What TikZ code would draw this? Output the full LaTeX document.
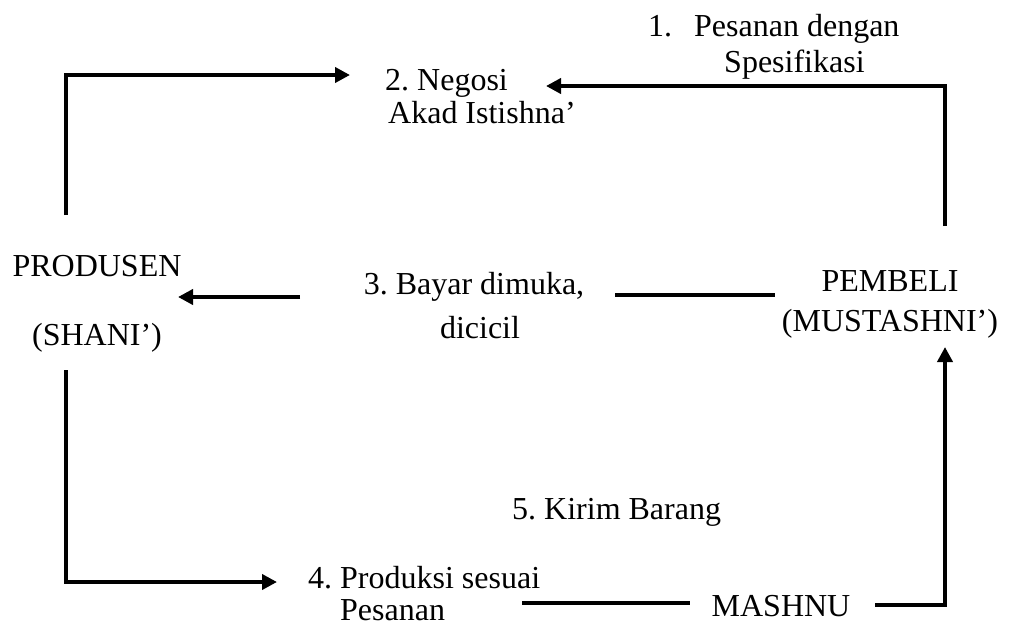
\documentclass[tikz,border=0pt]{standalone}
\usepackage{fontspec}
\setmainfont{Liberation Serif}
\usetikzlibrary{arrows.meta}

\begin{document}
\frenchspacing
\begin{tikzpicture}[
		txt/.style={inner sep=0pt,font=\fontsize{32}{32}\selectfont},
		ln/.style={line width=4pt},
		>={Triangle[length=15pt,width=15pt]},
		x=1pt,y=-1pt]
	\useasboundingbox (0,0) rectangle (1022,627);
	%% define nodes
	\node[txt,align=center,anchor=north] (produsen) at (97,255) {PRODUSEN\\[37pt](SHANI')};
	\node[txt,align=center,anchor=north] (pembeli) at (890,270) {PEMBELI\\[8pt](MUSTASHNI')};
	\node[txt,anchor=base] (mashnu) at (781,616) {MASHNU};
	\node[txt,align=left,anchor=north west] (negosi) at (385,69.5) {2. Negosi\\[1pt]\hspace{3pt}Akad Istishna'};
	\node[txt,align=left,anchor=north west] (pesan) at (648,14.4) {1.\hspace{22pt}Pesanan dengan\\[4pt]\hspace{76pt}Spesifikasi};
	\node[txt,align=center,anchor=north] (bayar) at (474,272) {3. Bayar dimuka,\\[12pt]\hspace{12pt}dicicil};
	\node[txt,align=left,anchor=north west] (produksi) at (308,566) {4. Produksi sesuai\\[0pt]\hspace{32pt}Pesanan};
	\node[txt,anchor=base west] (kirim) at (512,519) {5. Kirim Barang};
	%% define ends
	\coordinate (s1) at (66,215);
	\coordinate (e1) at (350,75);
	\coordinate (s2) at (945,226);
	\coordinate (e2) at (546,86);
	\coordinate (s3) at (300,297);
	\coordinate (e3) at (178,297);
	\coordinate (s3b) at (615,295);
	\coordinate (e3b) at (775,295);
	\coordinate (s4) at (66,370);
	\coordinate (e4) at (277,582);
	\coordinate (s5) at (522,603);
	\coordinate (e5) at (690,603);
	\coordinate (s6) at (875,605);
	\coordinate (e6) at (945,347);
	%% define arrows
	\draw[ln,->] (s1) |- (e1);
	\draw[ln,->] (s2) |- (e2);
	\draw[ln,->] (s3) -- (e3);
	\draw[ln] (s3b) -- (e3b);
	\draw[ln,->] (s4) |- (e4);
	\draw[ln] (s5) -- (e5);
	\draw[ln,->] (s6) -| (e6);
\end{tikzpicture}
\end{document}
